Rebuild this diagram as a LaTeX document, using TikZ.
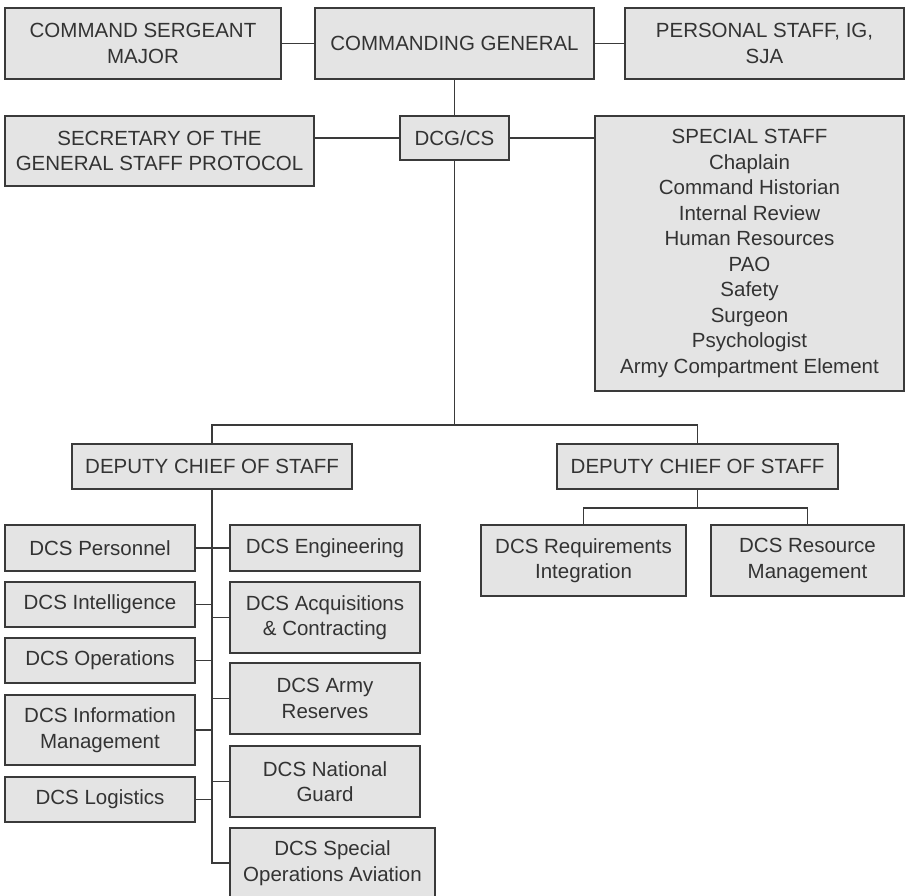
\documentclass[tikz,border=0pt]{standalone}
\usepackage{fontspec}
\setmainfont{Liberation Sans}
\usepackage{tikz}
\definecolor{boxfill}{HTML}{E4E4E4}
\definecolor{boxline}{HTML}{3A3A3A}

\begin{document}
\begin{tikzpicture}[x=1pt,y=-1pt,
	unit/.style={draw=boxline,fill=boxfill,line width=1.3pt,inner sep=0pt,align=center,
	text=black!80,font=\fontsize{20.5}{25.5}\selectfont},
	link/.style={draw=boxline,line width=1.3pt}]
\useasboundingbox (0,0) rectangle (905,896);
\node[unit,minimum width=276pt,minimum height=71pt] (csm) at (143,43.5) {COMMAND SERGEANT\\MAJOR};
\node[unit,minimum width=279pt,minimum height=71pt] (cg) at (454.5,43.5) {COMMANDING GENERAL};
\node[unit,minimum width=279pt,minimum height=71pt] (ps) at (764.5,43.5) {PERSONAL STAFF, IG,\\SJA};
\node[unit,minimum width=309pt,minimum height=70pt] (sgs) at (159.5,151) {SECRETARY OF THE\\GENERAL STAFF PROTOCOL};
\node[unit,minimum width=109pt,minimum height=44pt] (dcg) at (454.5,138) {DCG/CS};
\node[unit,minimum width=309pt,minimum height=275pt] (ss) at (749.5,253.5) {SPECIAL STAFF\\Chaplain\\Command Historian\\Internal Review\\Human Resources\\PAO\\Safety\\Surgeon\\Psychologist\\Army Compartment Element};
\node[unit,minimum width=280pt,minimum height=45pt] (dcosL) at (212,466.5) {DEPUTY CHIEF OF STAFF};
\node[unit,minimum width=281pt,minimum height=45pt] (dcosR) at (697.5,466.5) {DEPUTY CHIEF OF STAFF};
\node[unit,minimum width=205pt,minimum height=71pt] (req) at (583.5,560.5) {DCS Requirements\\Integration};
\node[unit,minimum width=193pt,minimum height=71pt] (rmg) at (807.5,560.5) {DCS Resource\\Management};
\node[unit,minimum width=190pt,minimum height=46pt] (pers) at (100,548) {DCS Personnel};
\node[unit,minimum width=190pt,minimum height=45pt] (intel) at (100,604.5) {DCS Intelligence};
\node[unit,minimum width=190pt,minimum height=45pt] (ops) at (100,660.5) {DCS Operations};
\node[unit,minimum width=190pt,minimum height=70pt] (info) at (100,730) {DCS Information\\Management};
\node[unit,minimum width=190pt,minimum height=45pt] (log) at (100,799.5) {DCS Logistics};
\node[unit,minimum width=190pt,minimum height=46pt] (eng) at (325,548) {DCS Engineering};
\node[unit,minimum width=190pt,minimum height=71pt] (acq) at (325,617.5) {DCS Acquisitions\\\& Contracting};
\node[unit,minimum width=190pt,minimum height=71pt] (resv) at (325,698.5) {DCS Army\\Reserves};
\node[unit,minimum width=190pt,minimum height=71pt] (ng) at (325,781.5) {DCS National\\Guard};
\node[unit,minimum width=205pt,minimum height=70pt] (soa) at (332.5,863) {DCS Special\\Operations Aviation};
\coordinate (split) at (454.5,425);
\coordinate (rsplit) at (697.5,508);
\draw[link] (csm) -- (cg);
\draw[link] (cg) -- (ps);
\draw[link] (cg) -- (dcg);
\draw[link] (dcg.west) -- (dcg.west -| sgs.east);
\draw[link] (dcg.east) -- (dcg.east -| ss.west);
\draw[link] (dcg) -- (split);
\draw[link] (dcosL) |- (split) -| (dcosR);
\draw[link] (dcosR) -- (rsplit);
\draw[link] (req) |- (rsplit) -| (rmg);
\draw[link] (dcosL) |- (soa);
\foreach \n in {pers,intel,ops,info,log,eng,acq,resv,ng}
	\draw[link] (\n) -- (\n -| dcosL);
\end{tikzpicture}
\end{document}
